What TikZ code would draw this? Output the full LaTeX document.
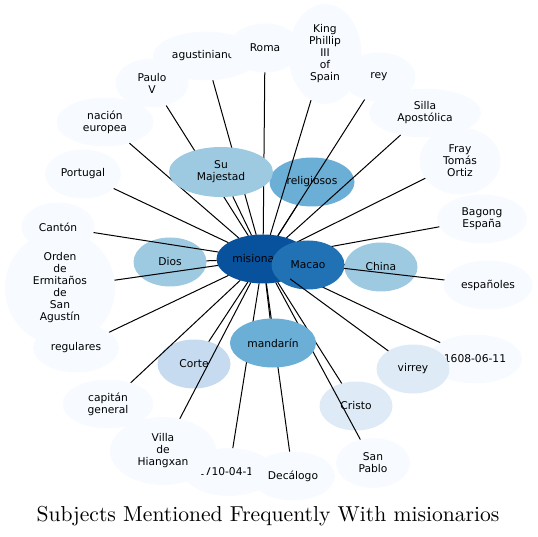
\documentclass[tikz,border=0pt]{standalone}
\usepackage{fontspec}
\usetikzlibrary{shapes.geometric}
\newfontfamily\dvsans{DejaVu Sans}
\newfontfamily\ttlfont{lmroman10-regular.otf}
\newcommand\nodefnt{\dvsans\fontsize{10.7}{12}\selectfont}
\definecolor{bA}{HTML}{F7FBFF}
\definecolor{bB}{HTML}{DEEBF7}
\definecolor{bC}{HTML}{C6DBEF}
\definecolor{bD}{HTML}{9ECAE1}
\definecolor{bE}{HTML}{6BAED6}
\definecolor{bG}{HTML}{2171B5}
\definecolor{bH}{HTML}{08519C}
\pgfdeclarelayer{nodesbelow}
\pgfdeclarelayer{edgesbelow}
\pgfdeclarelayer{edgesabove}
\pgfsetlayers{nodesbelow,edgesbelow,main,edgesabove}
\tikzset{
  nd/.style={ellipse, inner sep=0pt, outer sep=0pt, align=center, font=\nodefnt, text=black, fill=bA},
  sz/.style 2 args={minimum width={2*#1pt}, minimum height={2*#2pt}},
  lnk/.style={draw=black, line width=1pt}
}
\begin{document}
\begin{tikzpicture}[x=1pt,y=-1pt]
\useasboundingbox (0,0) rectangle (538,537);
\begin{pgfonlayer}{nodesbelow}
\node[nd, sz={46.5}{24.5}, fill=bH] (m) at (263,259) {misionarios};
\node[nd, sz={36.5}{24.5}, fill=bD] (china) at (381,267) {China};
\node[nd, sz={36.5}{24.5}, fill=bD] (dios) at (170,262) {Dios};
\node[nd, sz={42.5}{24.5}, fill=bE] (relig) at (312,182) {religiosos};
\node[nd, sz={36.5}{24.5}, fill=bC] (corte) at (194,364) {Corte};
\node[nd, sz={36.5}{24.5}, fill=bB] (cristo) at (356,406) {Cristo};
\node[nd, sz={47}{24.5}] (d1608) at (475,359) {1608-06-11};
\node[nd, sz={36.5}{24.5}, fill=bB] (virrey) at (413,369) {virrey};
\node[nd, sz={44.5}{24.5}] (espan) at (488,285) {españoles};
\node[nd, sz={45}{24.5}] (bagong) at (482,219) {Bagong\\España};
\node[nd, sz={56}{24.5}] (silla) at (425,113) {Silla\\Apostólica};
\node[nd, sz={40.5}{33.5}] (fray) at (460,161) {Fray\\Tomás\\Ortiz};
\node[nd, sz={36.5}{24.5}] (rey) at (379,77) {rey};
\node[nd, sz={36.5}{50}] (king) at (325,54) {King\\Phillip\\III\\of\\Spain};
\node[nd, sz={53}{24.5}] (agust) at (206,56) {agustinianos};
\node[nd, sz={36.5}{24.5}] (roma) at (265,48) {Roma};
\node[nd, sz={36.5}{24.5}] (paulo) at (152,83) {Paulo\\V};
\node[nd, sz={48.5}{24.5}] (nacion) at (105,122) {nación\\europea};
\node[nd, sz={38}{24.5}] (portugal) at (83,174) {Portugal};
\node[nd, sz={36.5}{24.5}] (canton) at (58,227) {Cantón};
\node[nd, sz={55}{57}] (orden) at (60,288) {Orden\\de\\Ermitaños\\de\\San\\Agustín};
\node[nd, sz={43}{24.5}] (regul) at (76,348) {regulares};
\node[nd, sz={45.5}{24.5}] (capitan) at (108,404) {capitán\\general};
\node[nd, sz={45}{24}] (d1710) at (229,472) {1710-04-15};
\node[nd, sz={53}{34}] (villa) at (163,451) {Villa\\de\\Hiangxan};
\node[nd, sz={42}{24.5}] (decal) at (293,476) {Decálogo};
\node[nd, sz={37}{25}] (pablo) at (373,463) {San\\Pablo};
\end{pgfonlayer}
\node[nd, sz={36.5}{24.5}, fill=bG] (macao) at (308,265) {Macao};
\node[nd, sz={52}{25}, fill=bD] (sumaj) at (221,172) {Su\\Majestad};
\node[nd, sz={43}{24.5}, fill=bE] (mand) at (273,343) {mandarín};
\begin{pgfonlayer}{edgesbelow}
\foreach \t in {china,macao,dios,relig,corte,cristo,d1608,espan,bagong,silla,fray,rey,king,agust,roma,paulo,nacion,portugal,canton,orden,regul,capitan,d1710,villa,decal,pablo,sumaj,mand}
  \draw[lnk] (m) -- (\t);
\end{pgfonlayer}
\begin{pgfonlayer}{edgesabove}
\draw[lnk] (m) -- (virrey);
\end{pgfonlayer}
\node[anchor=base, font=\ttlfont\fontsize{21.6}{26}\selectfont] (title) at (268,521.7) {Subjects Mentioned Frequently With misionarios};
\end{tikzpicture}
\end{document}
